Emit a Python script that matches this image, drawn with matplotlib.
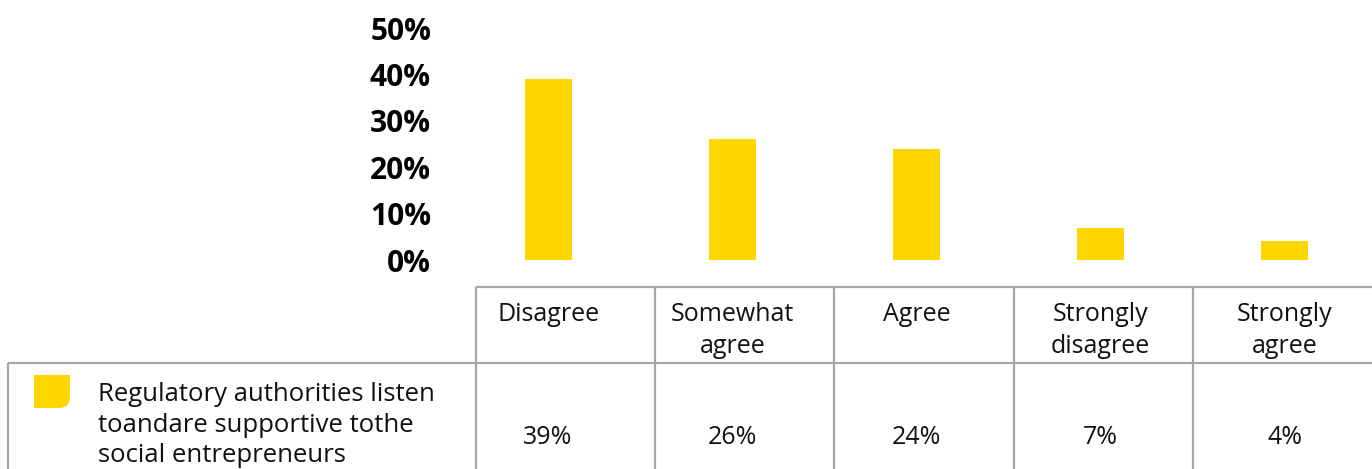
import matplotlib
matplotlib.use("Agg")
import matplotlib.pyplot as plt
from matplotlib.path import Path
from matplotlib.patches import PathPatch
from matplotlib.transforms import blended_transform_factory

plt.rcParams['font.family'] = ['Open Sans', 'DejaVu Sans']

categories = ["Disagree", "Somewhat\nagree", "Agree", "Strongly\ndisagree", "Strongly\nagree"]
values = [39, 26, 24, 7, 4]
value_labels = ["39%", "26%", "24%", "7%", "4%"]
series_name = "Regulatory authorities listen\ntoandare supportive tothe\nsocial entrepreneurs"
yticks = [0, 10, 20, 30, 40, 50]

YELLOW = '#FFD700'
GRID = '#A6A6A6'
W, H = 1372, 469

fig = plt.figure(figsize=(W / 100, H / 100), dpi=100)

# bar area, placed in pixel units
bl, bt, br, bb = 456, 28, 1377, 260
ax = fig.add_axes([bl / W, 1 - bb / H, (br - bl) / W, (bb - bt) / H])
x = [i + 0.5 for i in range(len(values))]
ax.bar(x, values, width=0.255, color=YELLOW)
ax.set_xlim(0, len(values))
ax.set_ylim(0, 50)
ax.set_yticks(yticks)
ax.set_yticklabels([f"{t}%" for t in yticks], fontsize=21.5, fontweight='bold')
ax.tick_params(axis='y', length=0, pad=18)
ax.set_xticks([])
for s in ax.spines.values():
    s.set_visible(False)

# table drawn in pixel coordinates
tb = fig.add_axes([0, 0, 1, 1])
tb.set_xlim(0, W)
tb.set_ylim(H, 0)
tb.axis('off')
tb.patch.set_alpha(0)

col_left, col_w = 476, (W - 476) / 5
head_top, row_top = 287, 363
tb.hlines(head_top, col_left, W, color=GRID, lw=1.6)
tb.hlines(row_top, 8, W, color=GRID, lw=1.6)
for k in range(5):
    tb.vlines(col_left + k * col_w, head_top, H, color=GRID, lw=1.6)
tb.vlines(8, row_top, H, color=GRID, lw=1.6)

# header and value text sit under the bars
trans = blended_transform_factory(ax.transData, tb.transData)
for xi, cat, lab in zip(x, categories, value_labels):
    tb.text(xi, 302, cat, transform=trans, ha='center', va='top',
            fontsize=18, linespacing=1.38, color='#111111')
    tb.text(xi, 437, lab, transform=trans, ha='center', va='center',
            fontsize=18, color='#111111')

# legend swatch with one rounded corner
verts = [(34, 375), (70, 375), (70, 397), (70, 408), (59, 408), (34, 408), (34, 375)]
codes = [Path.MOVETO, Path.LINETO, Path.LINETO, Path.CURVE3, Path.CURVE3, Path.LINETO, Path.CLOSEPOLY]
tb.add_patch(PathPatch(Path(verts, codes), facecolor=YELLOW, edgecolor='none'))
tb.text(98, 425, series_name, ha='left', va='center', fontsize=18.5,
        linespacing=1.3, color='#111111')

fig.savefig("out.png", dpi=100)
